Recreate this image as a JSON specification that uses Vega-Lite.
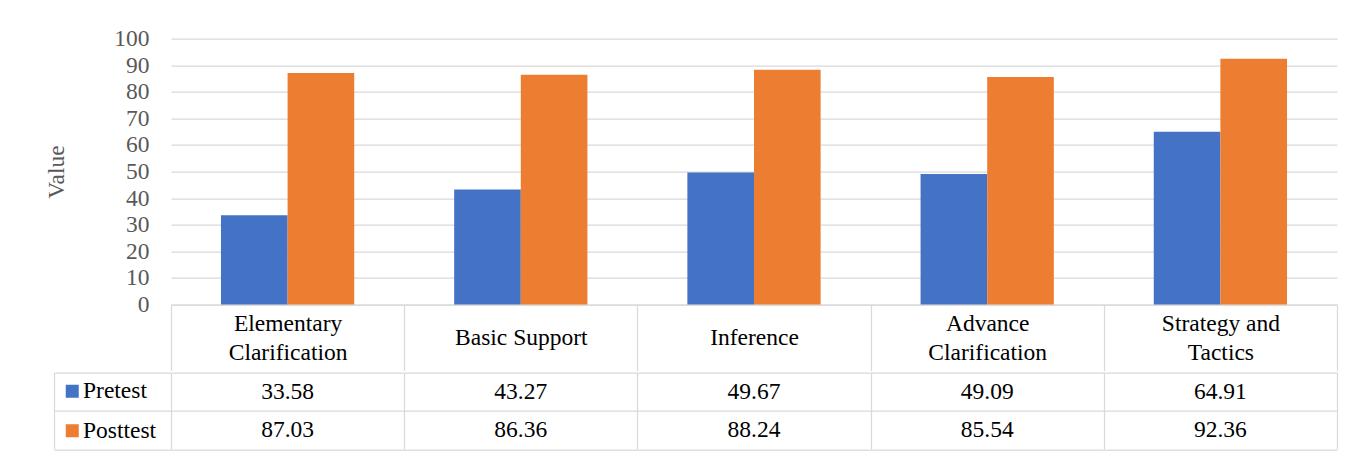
{
  "$schema": "https://vega.github.io/schema/vega-lite/v6.json",
  "background": "white",
  "autosize": {"type": "pad"},
  "padding": {"left": 44, "top": 26.5, "right": 5, "bottom": 0},
  "config": {
    "view": {"stroke": null},
    "font": "Liberation Serif",
    "text": {"font": "Liberation Serif"},
    "legend": {"labelFont": "Liberation Serif"}
  },
  "datasets": {
    "scores": [
      {"category": "Elementary Clarification", "series": "Pretest", "value": 33.58},
      {"category": "Basic Support", "series": "Pretest", "value": 43.27},
      {"category": "Inference", "series": "Pretest", "value": 49.67},
      {"category": "Advance Clarification", "series": "Pretest", "value": 49.09},
      {"category": "Strategy and Tactics", "series": "Pretest", "value": 64.91},
      {"category": "Elementary Clarification", "series": "Posttest", "value": 87.03},
      {"category": "Basic Support", "series": "Posttest", "value": 86.36},
      {"category": "Inference", "series": "Posttest", "value": 88.24},
      {"category": "Advance Clarification", "series": "Posttest", "value": 85.54},
      {"category": "Strategy and Tactics", "series": "Posttest", "value": 92.36}
    ]
  },
  "spacing": 0,
  "resolve": {"legend": {"color": "independent"}},
  "vconcat": [
    {
      "width": 1166,
      "height": 266,
      "data": {"name": "scores"},
      "mark": {"type": "bar"},
      "encoding": {
        "x": {
          "field": "category",
          "type": "nominal",
          "sort": ["Elementary Clarification", "Basic Support", "Inference", "Advance Clarification", "Strategy and Tactics"],
          "scale": {"paddingInner": 0, "paddingOuter": 0},
          "axis": {
            "title": null,
            "labelAngle": 0,
            "domain": true,
            "domainColor": "#d9d9d9",
            "domainWidth": 1.25,
            "ticks": true,
            "tickBand": "extent",
            "tickSize": 66,
            "tickColor": "#d9d9d9",
            "tickWidth": 1.25,
            "grid": false,
            "labelFont": "Liberation Serif",
            "labelFontSize": 23.5,
            "labelColor": "black",
            "labelBaseline": "middle",
            "labelPadding": {
              "condition": {"test": "indexof(datum.label, 'Clarification') > 0 || datum.label == 'Strategy and Tactics'", "value": -47.5},
              "value": -33
            },
            "labelLineHeight": 29.3,
            "labelLimit": 0,
            "labelExpr": "indexof(datum.label, 'Clarification') > 0 ? split(datum.label, ' ') : datum.label == 'Strategy and Tactics' ? ['Strategy and', 'Tactics'] : datum.label"
          }
        },
        "xOffset": {
          "field": "series",
          "type": "nominal",
          "sort": ["Pretest", "Posttest"],
          "scale": {"paddingInner": 0, "paddingOuter": 0.75}
        },
        "y": {
          "field": "value",
          "type": "quantitative",
          "scale": {"domain": [0, 100]},
          "axis": {
            "title": "Value",
            "values": [0, 10, 20, 30, 40, 50, 60, 70, 80, 90, 100],
            "grid": true,
            "gridColor": "#d9d9d9",
            "gridWidth": 1.25,
            "domain": false,
            "ticks": false,
            "tickSize": 0,
            "labelPadding": 22,
            "labelFont": "Liberation Serif",
            "labelFontSize": 23.5,
            "labelColor": "#595959",
            "titleFont": "Liberation Serif",
            "titleFontSize": 23.5,
            "titleFontWeight": "normal",
            "titleColor": "#595959",
            "titlePadding": 45
          }
        },
        "color": {
          "field": "series",
          "type": "nominal",
          "scale": {"domain": ["Pretest", "Posttest"], "range": ["#4472C4", "#ED7D31"]},
          "legend": null
        }
      }
    },
    {
      "width": 1166,
      "height": 76.5,
      "data": {"name": "scores"},
      "encoding": {
        "x": {
          "field": "category",
          "type": "nominal",
          "sort": ["Elementary Clarification", "Basic Support", "Inference", "Advance Clarification", "Strategy and Tactics"],
          "scale": {"paddingInner": 0, "paddingOuter": 0},
          "axis": {
            "title": null,
            "labels": false,
            "ticks": false,
            "domain": false,
            "grid": true,
            "tickBand": "extent",
            "gridColor": "#d9d9d9",
            "gridWidth": 1.25
          }
        },
        "y": {
          "field": "series",
          "type": "nominal",
          "sort": ["Pretest", "Posttest"],
          "scale": {"paddingInner": 0, "paddingOuter": 0},
          "axis": {
            "title": null,
            "labels": false,
            "grid": true,
            "gridColor": "#d9d9d9",
            "gridWidth": 1.25,
            "tickBand": "extent",
            "ticks": true,
            "tickSize": -117,
            "tickColor": "#d9d9d9",
            "tickWidth": 1.25,
            "offset": 117,
            "domain": true,
            "domainColor": "#d9d9d9",
            "domainWidth": 1.25
          }
        }
      },
      "layer": [
        {
          "mark": {"type": "text", "font": "Liberation Serif", "fontSize": 23.5, "color": "black", "baseline": "middle"},
          "encoding": {"text": {"field": "value", "type": "quantitative", "format": ".2f"}}
        },
        {
          "mark": {"type": "point", "shape": "square", "filled": true, "opacity": 0},
          "encoding": {
            "color": {
              "field": "series",
              "type": "nominal",
              "scale": {"domain": ["Pretest", "Posttest"], "range": ["#4472C4", "#ED7D31"]},
              "legend": {
                "orient": "none",
                "legendX": -110.5,
                "legendY": 7,
                "title": null,
                "direction": "vertical",
                "symbolType": "square",
                "symbolSize": 169,
                "symbolStrokeWidth": 0,
                "symbolOpacity": 1,
                "labelFont": "Liberation Serif",
                "labelFontSize": 23.5,
                "labelColor": "black",
                "labelOffset": -1,
                "rowPadding": 14.5,
                "padding": 0
              }
            }
          }
        }
      ]
    }
  ]
}
